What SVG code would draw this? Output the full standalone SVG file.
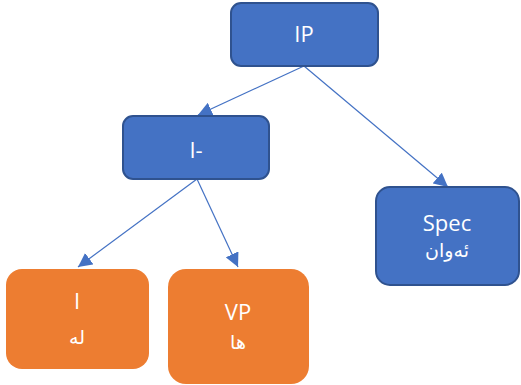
<svg xmlns="http://www.w3.org/2000/svg" width="521" height="385" viewBox="0 0 521 385">
<style>
.blue{fill:#4472C4;stroke:#2F528F;stroke-width:2}
.orange{fill:#ED7D31;stroke:none}
.lbl{font-family:"Open Sans","Liberation Sans",sans-serif;font-size:22px;fill:#fff;text-anchor:middle}
.ar{font-family:"DejaVu Sans","Noto Sans",sans-serif;font-size:19px;fill:#fff;text-anchor:middle}
.edge{stroke:#4472C4;stroke-width:1.2;fill:none}
</style>
<defs>
<marker id="ah" viewBox="0 0 10 10" refX="10" refY="5" markerWidth="14" markerHeight="14" markerUnits="userSpaceOnUse" orient="auto">
<path d="M0,0 L10,5 L0,10 Z" fill="#4472C4"/>
</marker>
</defs>
<rect width="521" height="385" fill="#fff"/>
<g id="connectors">
<line class="edge" x1="304" y1="66" x2="198" y2="115" marker-end="url(#ah)"/>
<line class="edge" x1="304" y1="66" x2="448" y2="187" marker-end="url(#ah)"/>
<line class="edge" x1="197" y1="179" x2="78" y2="267" marker-end="url(#ah)"/>
<line class="edge" x1="197" y1="179" x2="238" y2="267" marker-end="url(#ah)"/>
</g>
<g id="node-IP">
<rect class="blue" x="231" y="3" width="147" height="63" rx="10"/>
<text class="lbl" x="304" y="42">IP</text>
</g>
<g id="node-Ibar">
<rect class="blue" x="123" y="116" width="146" height="63" rx="10"/>
<text class="lbl" x="196" y="158">I-</text>
</g>
<g id="node-Spec">
<rect class="blue" x="376" y="187" width="143" height="98" rx="14"/>
<text class="lbl" x="447" y="231">Spec</text>
<text class="ar" x="447" y="257">ئەوان</text>
</g>
<g id="node-I">
<rect class="orange" x="6" y="269" width="143" height="100" rx="16"/>
<text class="lbl" x="77" y="309">I</text>
<text class="ar" x="77" y="344">له</text>
</g>
<g id="node-VP">
<rect class="orange" x="168" y="269" width="141" height="115" rx="18"/>
<text class="lbl" x="238" y="320">VP</text>
<text class="ar" x="238" y="349">ها</text>
</g>
</svg>
